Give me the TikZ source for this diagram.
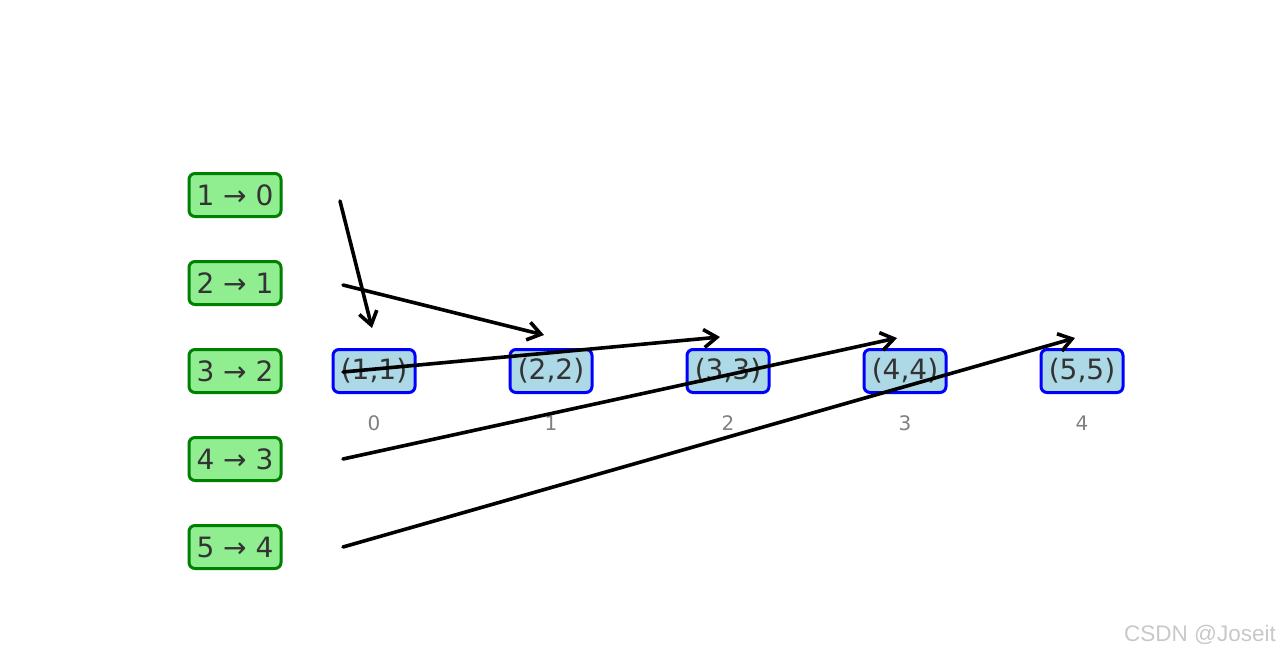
\documentclass[tikz,border=0pt]{standalone}
\usepackage{fontspec}
\setmainfont{DejaVu Sans}
\newfontfamily\markfont{Liberation Sans}
\usetikzlibrary{arrows.meta}
\definecolor{boxgreen}{HTML}{90EE90}
\definecolor{boxblue}{HTML}{ADD8E6}
\definecolor{edgegreen}{HTML}{008000}
\definecolor{textgray}{HTML}{333333}
\definecolor{markgray}{HTML}{C8C8C8}

\begin{document}
\begin{tikzpicture}[x=1pt,y=-1pt]
    \tikzstyle{row}=[draw=edgegreen,fill=boxgreen,line width=3pt,rounded corners=6pt,minimum width=92pt,minimum height=43pt,inner sep=0pt,text=textgray,font=\fontsize{28}{33}\selectfont]
    \tikzstyle{pair}=[row,draw=blue,fill=boxblue,minimum width=82pt]
    \tikzstyle{index}=[text=gray,font=\fontsize{20}{24}\selectfont]
    \tikzstyle{jump}=[line width=3.6pt,line cap=round,-{Straight Barb[length=13pt,width=18pt]}]
    \useasboundingbox (0,0) rectangle (1280,656);
    \foreach \i in {1,...,5} {
      \pgfmathtruncatemacro{\j}{\i-1}
      \node[row] (r_\i) at (235,{195+88*(\i-1)}) {\i{} → \j};
      \node[pair] (p_\i) at ({374+177*(\i-1)},371) {(\i,\i)};
      \node[index] (i_\i) at ({374+177*(\i-1)},423) {\j};
    }
    \coordinate (s_1) at (340,201);
    \coordinate (s_2) at (343,285);
    \coordinate (s_3) at (343,372);
    \coordinate (s_4) at (343,459);
    \coordinate (s_5) at (343,547);
    \coordinate (t_1) at (372,328);
    \coordinate (t_2) at (544,335);
    \coordinate (t_3) at (720,337);
    \coordinate (t_4) at (897,338);
    \coordinate (t_5) at (1075,338);
    \foreach \i in {1,...,5}
      \draw[jump] (s_\i) -- (t_\i);
    \node[text=markgray,font=\markfont\fontsize{22.5}{26}\selectfont] (mark) at (1200,635) {CSDN @Joseit};
\end{tikzpicture}
\end{document}
